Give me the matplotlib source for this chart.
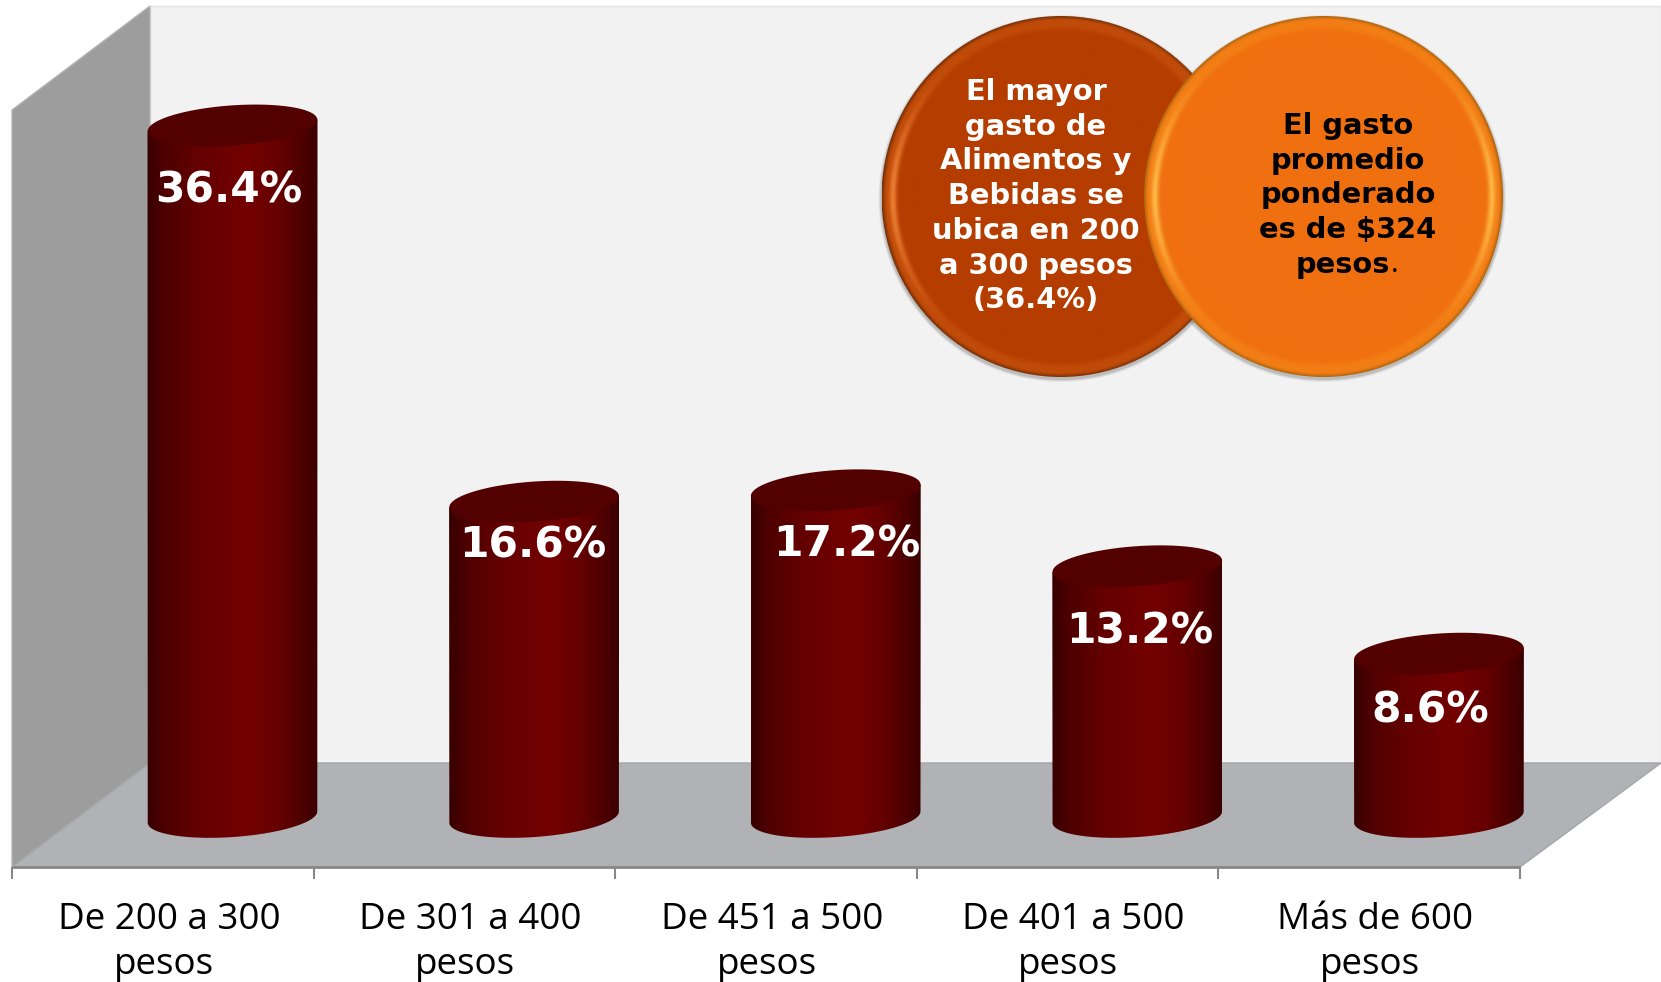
import numpy as np
import matplotlib
matplotlib.use('Agg')
import matplotlib.pyplot as plt
from matplotlib.colors import LinearSegmentedColormap, to_rgb
from matplotlib.patches import Ellipse, Polygon

# data
categories = [['De 200 a 300', 'pesos'], ['De 301 a 400', 'pesos'], ['De 451 a 500', 'pesos'],
              ['De 401 a 500', 'pesos'], ['Más de 600', 'pesos']]
values = [36.4, 16.6, 17.2, 13.2, 8.6]
value_labels = ['36.4%', '16.6%', '17.2%', '13.2%', '8.6%']
note_left = ['El mayor', 'gasto de', 'Alimentos y', 'Bebidas se', 'ubica en 200', 'a 300 pesos', '(36.4%)']
note_right = ['El gasto', 'promedio', 'ponderado', 'es de $324', 'pesos']

W, H = 1661, 982
# layout of the fake 3d chart, in pixels
X0, X_STEP = 232.5, 301.6
Y0, Y_STEP = 817, 19.0
BAR_W = 170
label_dx = [-4, -1, 11, 3, -9]
label_dy = [65, 44, 54, 65, 57]
BOLD = 'DejaVu Sans'

plt.rcParams['font.family'] = ['Open Sans', 'DejaVu Sans']

fig = plt.figure(figsize=(W / 100, H / 100), dpi=100, facecolor='white')

# pixel axes for walls, floor, axis line and the two notes
bg = fig.add_axes([0, 0, 1, 1], zorder=0)
bg.set_xlim(0, W)
bg.set_ylim(H, 0)
bg.axis('off')

# Back wall, side wall and floor
bg.add_patch(Polygon([(150, 6), (W, 6), (W, 763), (150, 763)], fc='#f2f2f2', ec='#e6e6e6', lw=1))
bg.add_patch(Polygon([(12, 110), (150, 6), (150, 763), (12, 867)], fc='#9d9d9d', ec='#b5b5b5', lw=1))
bg.add_patch(Polygon([(12, 867), (150, 763), (W, 763), (1520, 867)], fc='#b0b2b6', ec='#a4a5a8', lw=1))
bg.plot([12, 1520], [867, 867], color='#878787', lw=2, solid_capstyle='butt')
for i in range(6):
    tx = 12 + i * 301.6
    bg.plot([tx, tx], [867, 879], color='#878787', lw=1.5, solid_capstyle='butt')

# Category labels, first line sits a bit right of the second as in the original
for i, (line1, line2) in enumerate(categories):
    cx = 164 + i * 301.4
    bg.text(cx + 5, 929, line1, ha='center', va='baseline', fontsize=26.5, color='black')
    bg.text(cx, 974, line2, ha='center', va='baseline', fontsize=26.5, color='black')


def draw_disc(cx, cy, rx, ry, base, rim, glow, edge):
    # soft shadow first
    for k, a in zip([6, 4, 2], [0.08, 0.12, 0.18]):
        bg.add_patch(Ellipse((cx, cy + 2), 2 * rx + k, 2 * ry + k, fc='#555555', ec='none', alpha=a))
    xs = np.linspace(-1, 1, 800)
    ys = np.linspace(-1, 1, 800)
    xx, yy = np.meshgrid(xs, ys)
    r = np.hypot(xx, yy)
    side = np.abs(xx) / np.maximum(r, 1e-6)
    rgb = np.ones((800, 800, 3)) * np.array(to_rgb(base))
    t = np.clip((r - 0.915) / 0.03, 0, 1)[..., None]
    rgb = rgb * (1 - t) + np.array(to_rgb(rim)) * t
    g = (0.8 * side ** 8 * np.exp(-((r - 0.94) / 0.02) ** 2))[..., None]
    rgb = rgb * (1 - g) + np.array(to_rgb(glow)) * g
    e = np.clip((r - 0.98) / 0.02, 0, 1)[..., None]
    rgb = rgb * (1 - e) + np.array(to_rgb(edge)) * e
    im = bg.imshow(rgb, extent=(cx - rx, cx + rx, cy + ry, cy - ry), aspect='auto', zorder=2)
    im.set_clip_path(Ellipse((cx, cy), 2 * rx, 2 * ry, transform=bg.transData))


draw_disc(1061, 196.5, 179.5, 180.5, '#b53d00', '#c04a08', '#f58a3c', '#7a3208')
draw_disc(1323.5, 196.5, 179.5, 180.5, '#f07010', '#f37d15', '#ffc550', '#b0660f')
bg.set_xlim(0, W)
bg.set_ylim(H, 0)

for i, line in enumerate(note_left):
    bg.text(1036, 92 + i * 34.7, line, ha='center', va='center', fontsize=20.8, fontweight='bold',
            family=BOLD, color='white', zorder=3)
for i, line in enumerate(note_right):
    nx = 1343 if line == 'pesos' else 1348
    bg.text(nx, 126 + i * 34.7, line, ha='center', va='center', fontsize=20.8, fontweight='bold',
            family=BOLD, color='black', zorder=3)
bg.text(1391, 272, '.', ha='left', va='baseline', fontsize=20.8, color='black', zorder=3)

# data axes: x is the category index, y the percentage
ax = fig.add_axes([0, 0, 1, 1], zorder=1)
ax.patch.set_alpha(0)
ax.axis('off')
xlim = ((0 - X0) / X_STEP, (W - X0) / X_STEP)
ylim = ((Y0 - H) / Y_STEP, Y0 / Y_STEP)

cyl_cmap = LinearSegmentedColormap.from_list('cyl', [
    (0.0, '#370000'), (0.1, '#4e0000'), (0.3, '#640000'), (0.6, '#740000'),
    (0.78, '#640000'), (0.92, '#4c0000'), (1.0, '#3a0000')])
grad = np.linspace(0, 1, 256).reshape(1, -1)

# the end caps are tilted ellipses
a, b = BAR_W / 2, 20.0
phi = np.arctan2(12, 170)
ang = np.linspace(0, 2 * np.pi, 200)
ex = a * np.cos(ang) * np.cos(phi) + b * np.sin(ang) * np.sin(phi)
ey = -a * np.cos(ang) * np.sin(phi) + b * np.sin(ang) * np.cos(phi)
low = ang <= np.pi

for i, v in enumerate(values):
    half = BAR_W / 2 / X_STEP
    # body: down the left side, along the lower half of the base ellipse, up the right
    order = np.argsort(ex[low])
    bx = i + ex[low][order] / X_STEP
    by = -ey[low][order] / Y_STEP
    body = np.column_stack([
        np.concatenate([[i - half], bx, [i + half]]),
        np.concatenate([[v - 6 / Y_STEP], by, [v + 6 / Y_STEP]]),
    ])
    im = ax.imshow(grad, cmap=cyl_cmap, extent=(i - half, i + half, -3, v + 3), aspect='auto', zorder=2)
    im.set_clip_path(Polygon(body, transform=ax.transData))
    # top cap
    ax.fill(i + ex / X_STEP, v - ey / Y_STEP, color='#520000', lw=0, zorder=3)
    ax.text(i + label_dx[i] / X_STEP, v - label_dy[i] / Y_STEP, value_labels[i], ha='center', va='center',
            fontsize=30.5, fontweight='bold', family=BOLD, color='white', zorder=4)

ax.set_xlim(*xlim)
ax.set_ylim(*ylim)

fig.savefig('out.png', dpi=100)
